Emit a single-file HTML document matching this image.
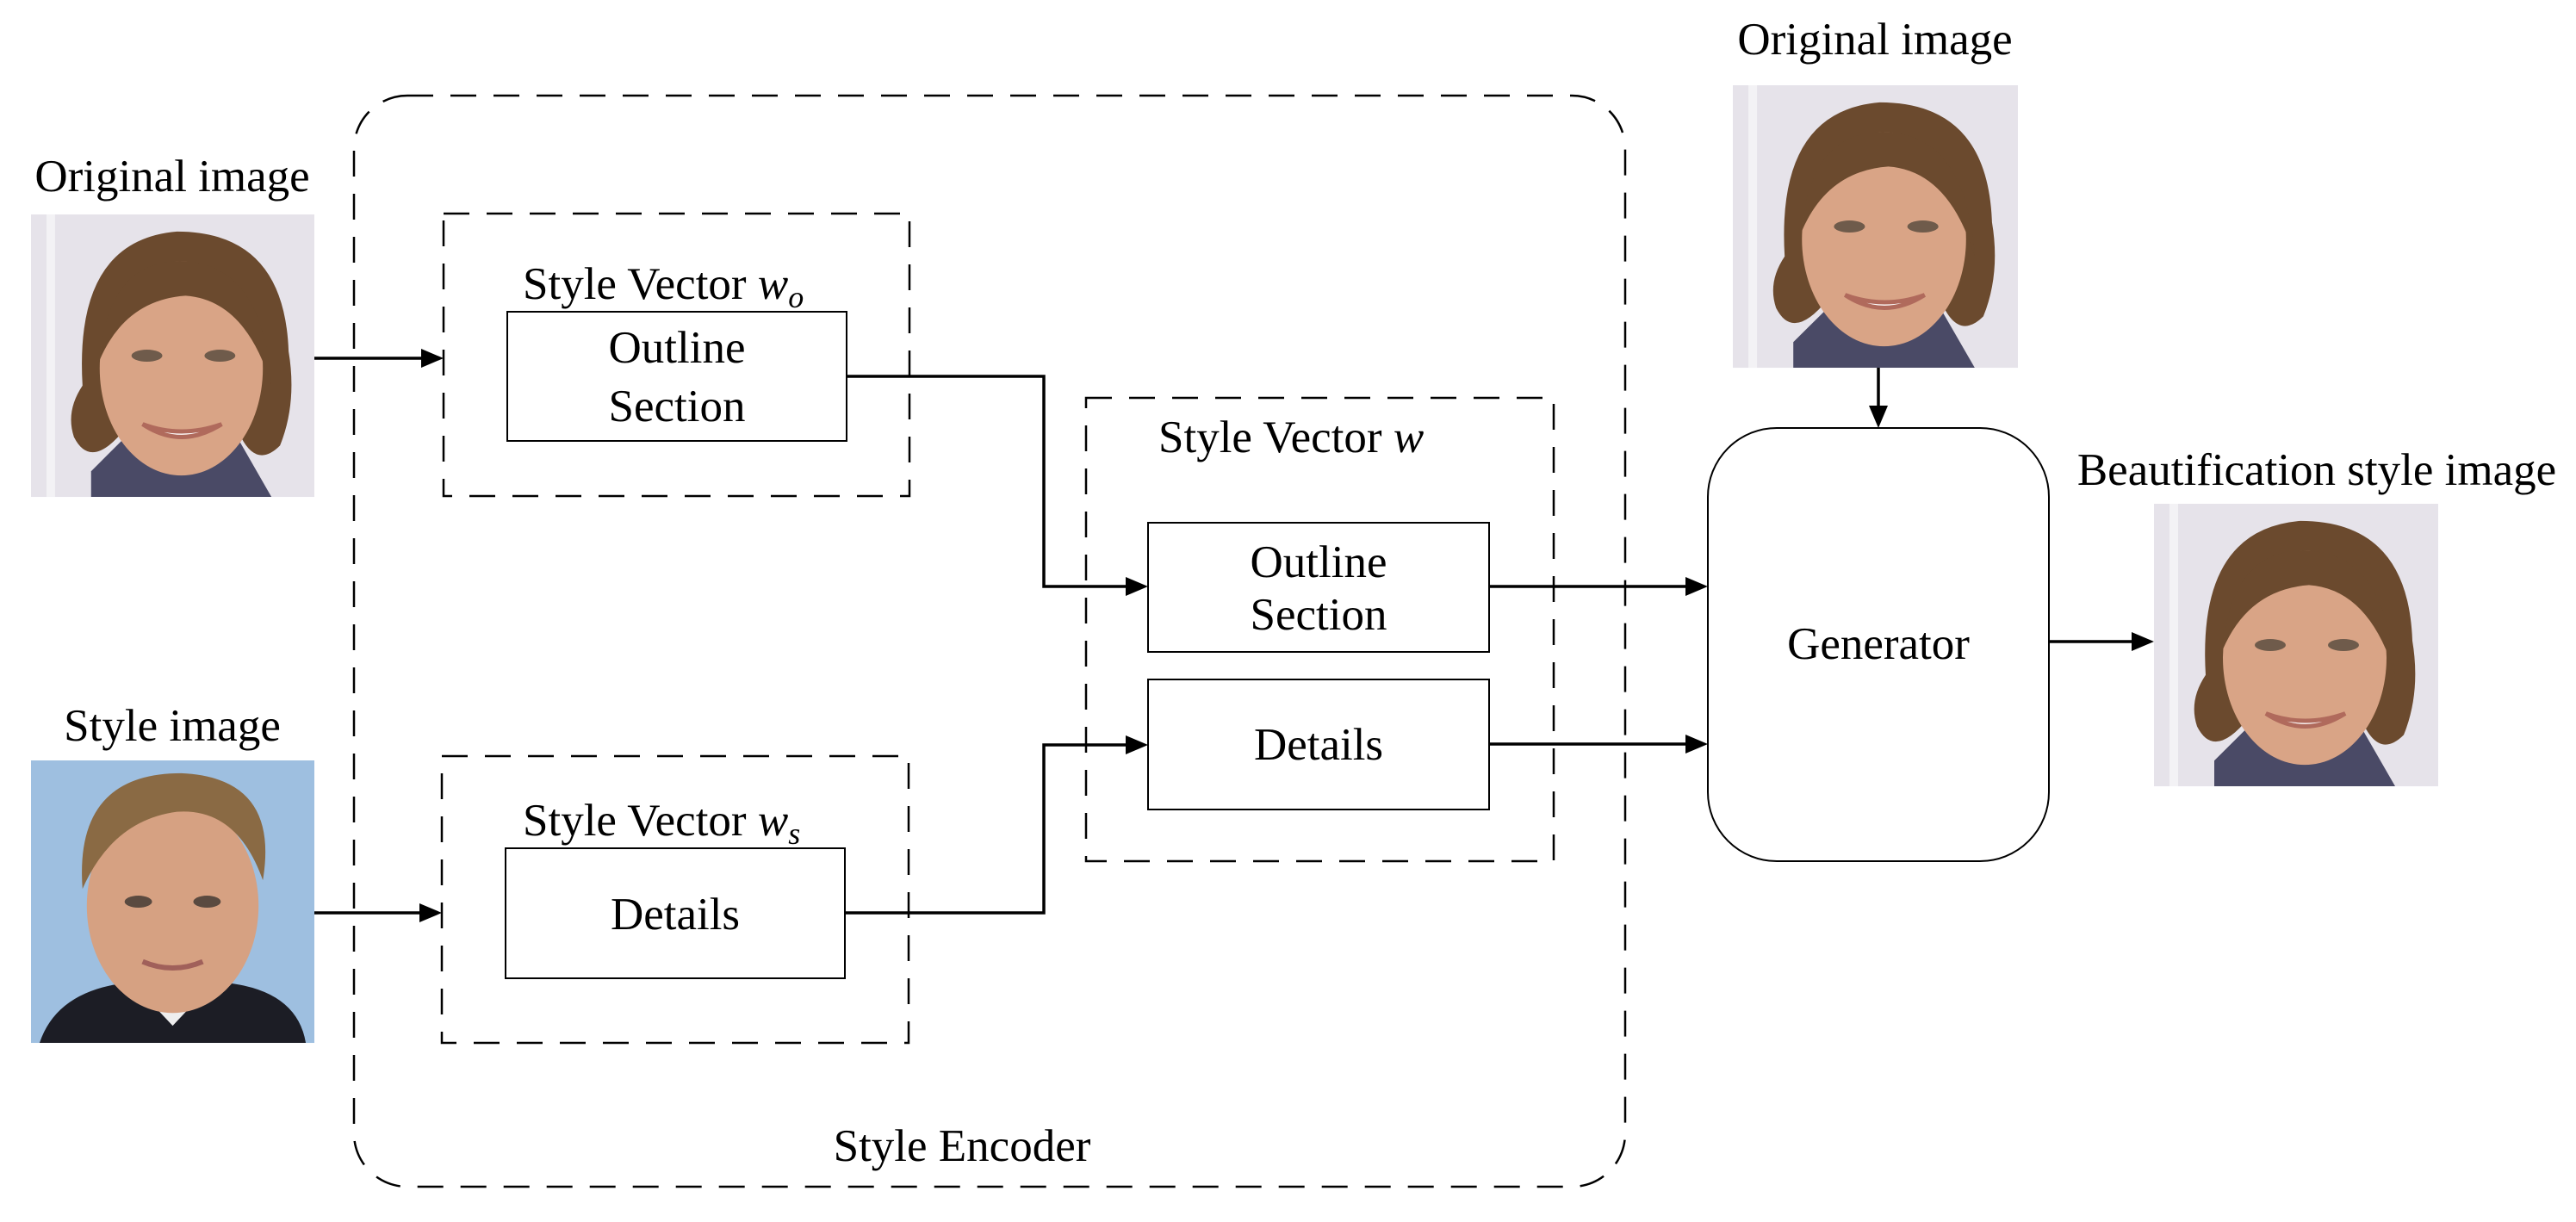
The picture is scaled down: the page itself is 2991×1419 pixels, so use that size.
<!DOCTYPE html>
<html><head><meta charset="utf-8"><style>
html,body{margin:0;padding:0;background:#fff;}
svg{display:block;}
text{font-family:"Liberation Serif",serif;font-size:53px;fill:#000;}
</style></head><body>
<svg width="2991" height="1419" viewBox="0 0 2991 1419" xmlns="http://www.w3.org/2000/svg">
<defs>
<g id="faceA">
<rect x="0" y="0" width="330" height="330" fill="#e6e3ea"/>
<rect x="18" y="0" width="10" height="330" fill="#f3f2f5"/>
<path d="M70 300 L110 260 L240 260 L280 330 L70 330Z" fill="#4a4a66"/>
<path d="M60 200 Q50 30 170 20 Q295 20 300 160 Q310 220 290 270 Q260 300 240 250 L110 250 Q70 300 50 260 Q40 230 60 200Z" fill="#6b4a2e"/>
<ellipse cx="175" cy="180" rx="95" ry="125" fill="#d9a486"/>
<path d="M80 170 Q90 50 180 55 Q270 60 280 200 Q250 100 180 95 Q110 100 80 170Z" fill="#6b4a2e"/>
<ellipse cx="135" cy="165" rx="18" ry="7" fill="#6f5b4b"/>
<ellipse cx="220" cy="165" rx="18" ry="7" fill="#6f5b4b"/>
<path d="M130 245 Q175 275 222 245 Q175 262 130 245Z" fill="#fff" stroke="#b06a5c" stroke-width="5"/>
</g>
<g id="faceB">
<rect x="0" y="0" width="330" height="330" fill="#9ebfe0"/>
<path d="M10 330 Q30 270 110 260 L230 260 Q310 270 320 330Z" fill="#1c1d25"/>
<path d="M120 262 L165 310 L210 262Z" fill="#eee"/>
<ellipse cx="165" cy="170" rx="100" ry="125" fill="#d6a182"/>
<path d="M60 150 Q50 15 175 15 Q290 20 270 140 Q240 55 170 60 Q95 70 60 150Z" fill="#8a6a44"/>
<ellipse cx="125" cy="165" rx="16" ry="7" fill="#5a4a40"/>
<ellipse cx="205" cy="165" rx="16" ry="7" fill="#5a4a40"/>
<path d="M130 235 Q165 250 200 235" fill="none" stroke="#a0605a" stroke-width="6"/>
</g>
</defs>

<g transform="translate(36,249) scale(0.997,0.994)"><use href="#faceA"/></g>
<g transform="translate(36,883) scale(0.997,0.994)"><use href="#faceB"/></g>
<g transform="translate(2012,99) scale(1.003,0.994)"><use href="#faceA"/></g>
<g transform="translate(2501,585) scale(1.0,0.994)"><use href="#faceA"/></g>

<rect x="411" y="111" width="1476" height="1267" rx="62" ry="62" fill="none" stroke="#000" stroke-width="2.5" stroke-dasharray="30 20"/>
<rect x="515" y="248" width="541" height="328" fill="none" stroke="#000" stroke-width="2.5" stroke-dasharray="30 20"/>
<rect x="513" y="878" width="542" height="333" fill="none" stroke="#000" stroke-width="2.5" stroke-dasharray="30 20"/>
<rect x="1261" y="462" width="543" height="538" fill="none" stroke="#000" stroke-width="2.5" stroke-dasharray="30 20"/>

<rect x="589" y="362" width="394" height="150" fill="#fff" stroke="#000" stroke-width="2"/>
<rect x="587" y="985" width="394" height="151" fill="#fff" stroke="#000" stroke-width="2"/>
<rect x="1333" y="607" width="396" height="150" fill="#fff" stroke="#000" stroke-width="2"/>
<rect x="1333" y="789" width="396" height="151" fill="#fff" stroke="#000" stroke-width="2"/>
<rect x="1983" y="497" width="396" height="503" rx="80" ry="80" fill="#fff" stroke="#000" stroke-width="2"/>

<g stroke="#000" stroke-width="3.5" fill="none">
<path d="M365 416 H492"/>
<path d="M365 1060 H490"/>
<path d="M983 437 H1212 V681 H1310"/>
<path d="M981 1060 H1212 V865 H1310"/>
<path d="M1729 681 H1960"/>
<path d="M1729 864 H1960"/>
<path d="M2181 427 V474"/>
<path d="M2379 745 H2477"/>
</g>
<g fill="#000">
<path d="M515 416 L489 405 L489 427Z"/>
<path d="M513 1060 L487 1049 L487 1071Z"/>
<path d="M1333 681 L1307 670 L1307 692Z"/>
<path d="M1333 865 L1307 854 L1307 876Z"/>
<path d="M1983 681 L1957 670 L1957 692Z"/>
<path d="M1983 864 L1957 853 L1957 875Z"/>
<path d="M2181 497 L2170 471 L2192 471Z"/>
<path d="M2501 745 L2475 734 L2475 756Z"/>
</g>

<text x="200" y="222" text-anchor="middle">Original image</text>
<text x="200" y="860" text-anchor="middle">Style image</text>
<text x="2177" y="63" text-anchor="middle">Original image</text>
<text x="2690" y="563" text-anchor="middle">Beautification style image</text>
<text x="2181" y="765" text-anchor="middle">Generator</text>
<text x="1117" y="1348" text-anchor="middle">Style Encoder</text>

<text x="607" y="347">Style Vector <tspan font-style="italic">w</tspan><tspan font-style="italic" font-size="36" dy="10">o</tspan></text>
<text x="607" y="970">Style Vector <tspan font-style="italic">w</tspan><tspan font-style="italic" font-size="36" dy="10">s</tspan></text>
<text x="1345" y="525">Style Vector <tspan font-style="italic">w</tspan></text>

<text x="786" y="421" text-anchor="middle">Outline</text>
<text x="786" y="489" text-anchor="middle">Section</text>
<text x="784" y="1079" text-anchor="middle">Details</text>
<text x="1531" y="670" text-anchor="middle">Outline</text>
<text x="1531" y="731" text-anchor="middle">Section</text>
<text x="1531" y="882" text-anchor="middle">Details</text>
</svg>
</body></html>
